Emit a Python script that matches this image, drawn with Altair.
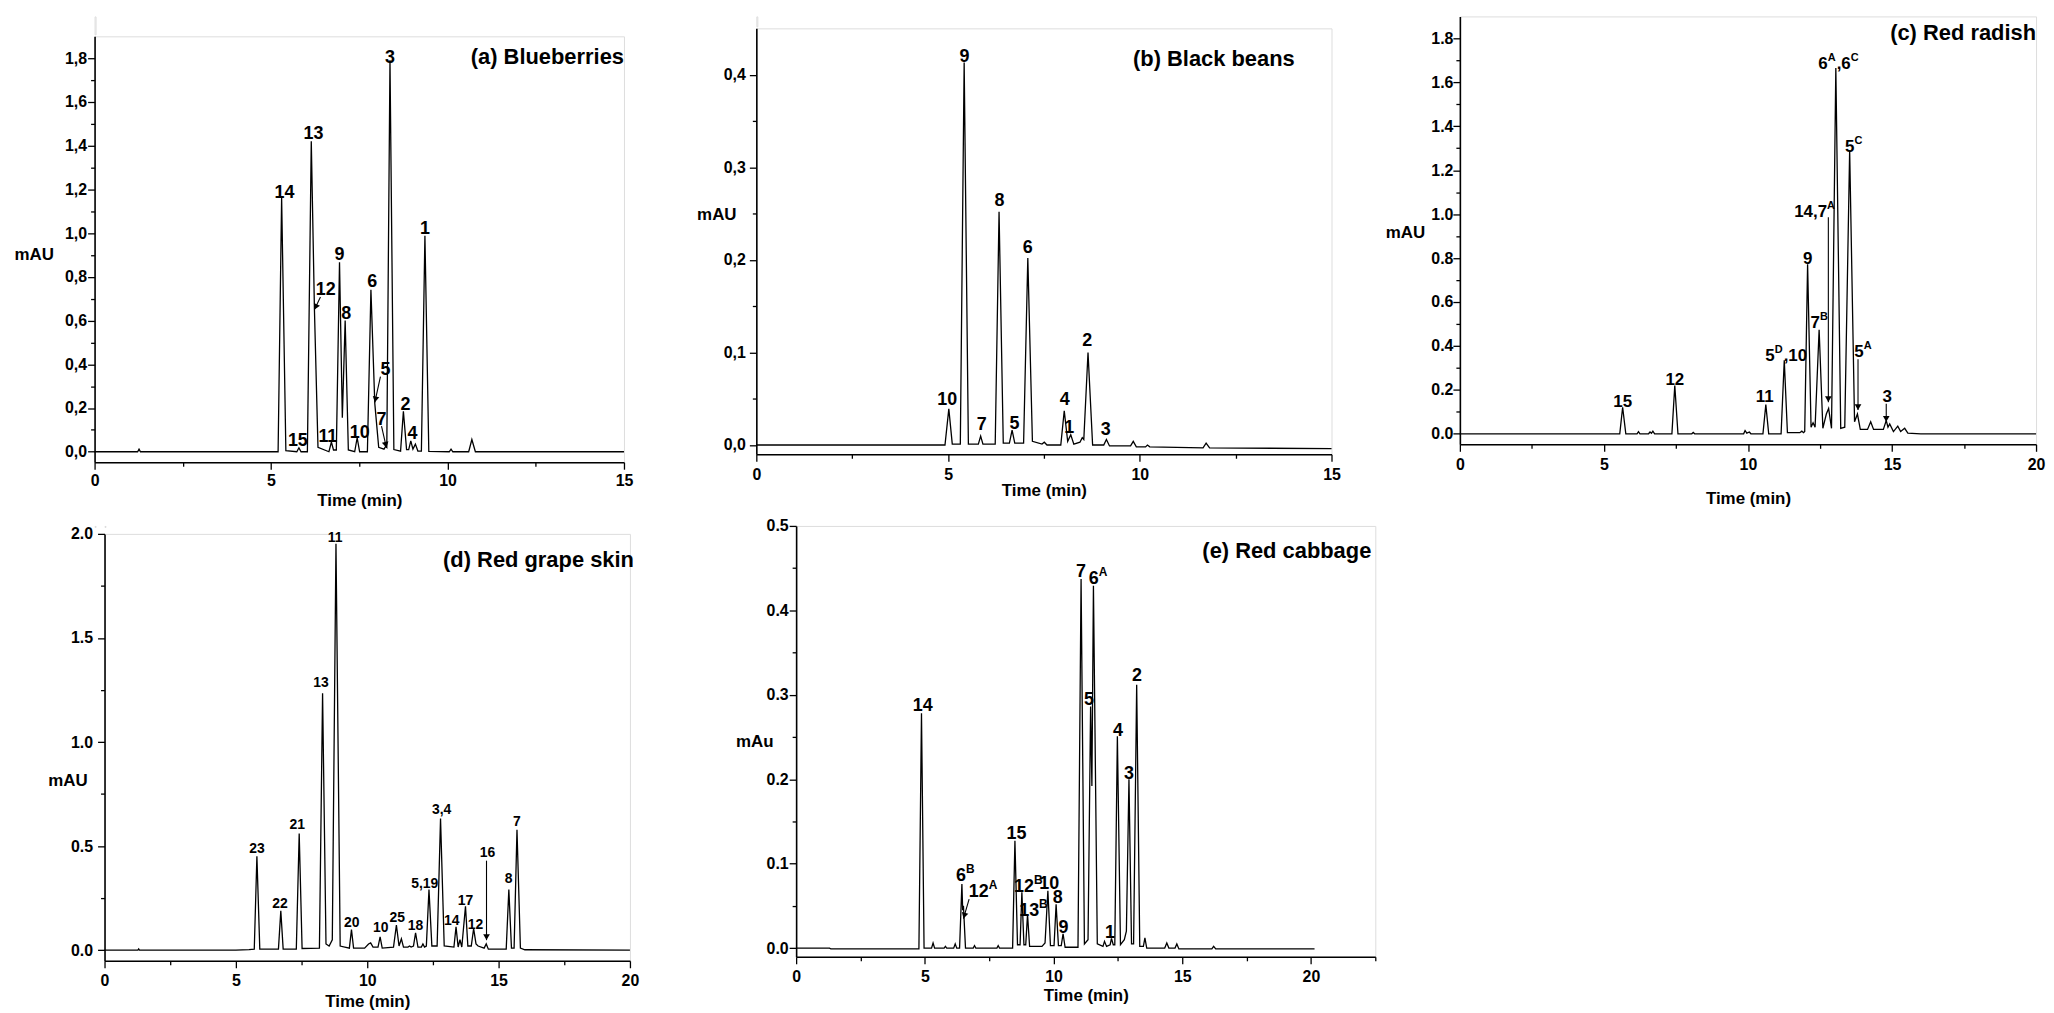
import math
import altair as alt
import pandas as pd

FONT = "Liberation Sans, Arial, Helvetica, sans-serif"

# ---------------- (a) Blueberries ----------------
A_TRACE = [(0, 0), (1.22, 0), (1.26, 0.012), (1.30, 0), (5.20, 0), (5.30, 1.162), (5.42, 0.005),
           (5.73, 0), (5.79, 0.018), (5.85, 0), (6.03, 0), (6.14, 1.42), (6.23, 0.647), (6.33, 0.02),
           (6.64, 0), (6.71, 0.044), (6.77, 0.008), (6.85, 0.008), (6.94, 0.867), (7.02, 0.155),
           (7.10, 0.60), (7.19, 0.008), (7.37, 0), (7.44, 0.064), (7.51, 0), (7.73, 0), (7.83, 0.741),
           (7.94, 0.22), (8.05, 0.02), (8.20, 0.012), (8.25, 0.025), (8.28, 0.02), (8.37, 1.79),
           (8.48, 0.01), (8.67, 0.003), (8.75, 0.185), (8.84, 0.01), (8.90, 0.01), (8.96, 0.05),
           (9.02, 0.012), (9.09, 0.035), (9.16, 0.003), (9.26, 0.003), (9.36, 0.988), (9.47, 0.002),
           (10.05, 0), (10.10, 0.012), (10.15, 0), (10.60, 0), (10.69, 0.056), (10.79, 0), (15.0, 0)]
A_LABELS = [("14", 5.38, 1.162), ("15", 5.76, 0.026), ("13", 6.20, 1.43), ("12", 6.55, 0.715),
            ("11", 6.61, 0.044), ("9", 6.94, 0.877), ("8", 7.13, 0.609), ("10", 7.51, 0.064),
            ("6", 7.87, 0.753), ("5", 8.24, 0.351), ("7", 8.13, 0.124), ("3", 8.37, 1.78),
            ("2", 8.81, 0.192), ("4", 9.01, 0.056), ("1", 9.36, 0.995)]
A_ARROWS = [(6.40, 0.708, 6.23, 0.65), (8.10, 0.344, 7.94, 0.226), (8.13, 0.117, 8.27, 0.018)]

# ---------------- (b) Black beans ----------------
B_TRACE = [(0, 0), (4.92, 0), (5.02, 0.039), (5.11, 0.001), (5.32, 0.001), (5.42, 0.413), (5.53, 0.001),
           (5.79, 0.001), (5.85, 0.0097), (5.91, 0.001), (6.23, 0.001), (6.33, 0.252), (6.44, 0.002),
           (6.60, 0.002), (6.67, 0.016), (6.74, 0.002), (6.97, 0.002), (7.08, 0.202), (7.20, 0.004),
           (7.45, 0.001), (7.51, 0.003), (7.58, 0.0), (7.94, 0.0), (8.03, 0.037), (8.12, 0.004),
           (8.20, 0.011), (8.28, 0.001), (8.44, 0.003), (8.50, 0.008), (8.54, 0.006), (8.65, 0.100),
           (8.77, 0.0), (9.06, 0.0), (9.13, 0.006), (9.21, -0.001), (9.76, -0.001), (9.83, 0.004),
           (9.91, -0.002), (10.15, -0.002), (10.20, 0.0), (10.26, -0.002), (11.65, -0.003),
           (11.73, 0.002), (11.82, -0.003), (15.0, -0.004)]
B_LABELS = [("10", 4.98, 0.043), ("9", 5.43, 0.414), ("7", 5.88, 0.016), ("8", 6.34, 0.258),
            ("5", 6.73, 0.017), ("6", 7.08, 0.207), ("4", 8.04, 0.043), ("1", 8.16, 0.013),
            ("2", 8.63, 0.107), ("3", 9.11, 0.011)]

# ---------------- (c) Red radish ----------------
C_TRACE = [(0, 0), (5.55, 0), (5.65, 0.121), (5.76, 0), (6.15, 0), (6.20, 0.01), (6.25, 0), (6.55, 0),
           (6.60, 0.008), (6.65, 0.002), (6.70, 0.012), (6.76, 0), (7.36, 0), (7.46, 0.22), (7.57, 0),
           (8.05, 0), (8.10, 0.006), (8.15, 0), (9.85, 0), (9.90, 0.015), (9.96, 0.003), (10.05, 0.008),
           (10.10, 0), (10.52, 0), (10.62, 0.133), (10.72, 0), (11.15, 0), (11.26, 0.335), (11.37, 0.005),
           (11.80, 0.005), (11.87, 0.012), (11.93, 0.005), (11.97, 0.01), (12.07, 0.772), (12.19, 0.03),
           (12.26, 0.05), (12.33, 0.03), (12.47, 0.474), (12.60, 0.025), (12.72, 0.09), (12.80, 0.115),
           (12.90, 0.025), (13.05, 1.665), (13.22, 0.025), (13.36, 0.03), (13.53, 1.29), (13.70, 0.055),
           (13.80, 0.09), (13.90, 0.02), (14.15, 0.02), (14.26, 0.055), (14.36, 0.02), (14.70, 0.02),
           (14.80, 0.06), (14.86, 0.03), (14.92, 0.045), (15.05, 0.01), (15.20, 0.035), (15.30, 0.01),
           (15.44, 0.025), (15.55, 0.003), (16.0, 0), (20.0, 0)]
C_LABELS = [("15", 5.65, 0.122), ("12", 7.46, 0.222), ("11", 10.58, 0.144), ("9", 12.07, 0.772),
            ("3", 14.83, 0.144)]
# labels with superscripts: "^" marks the superscript letter; x is the label centre
C_SUPLABELS = [("5^D,10", 11.33, 0.332), ("14,7^A", 12.33, 0.985), ("7^B", 12.49, 0.482),
               ("6^A,6^C", 13.16, 1.661), ("5^C", 13.69, 1.285), ("5^A", 14.01, 0.351)]
C_ARROWS = [(12.79, 0.986, 12.79, 0.144), (13.82, 0.339, 13.82, 0.108), (14.80, 0.137, 14.80, 0.054)]

# ---------------- (d) Red grape skin ----------------
D_TRACE = [(0, 0), (1.27, 0), (1.30, 0.006), (1.33, 0), (5.0, 0), (5.50, 0.003), (5.70, 0.005),
           (5.80, 0.451), (5.91, 0.005), (6.62, 0.005), (6.71, 0.189), (6.80, 0.005), (7.30, 0.005),
           (7.41, 0.56), (7.52, 0.008), (8.18, 0.01), (8.30, 1.234), (8.43, 0.03), (8.55, 0.02),
           (8.67, 0.05), (8.81, 1.953), (8.97, 0.02), (9.32, 0.01), (9.40, 0.099), (9.48, 0.01),
           (9.90, 0.01), (10.05, 0.03), (10.13, 0.035), (10.22, 0.015), (10.41, 0.015), (10.49, 0.064),
           (10.57, 0.01), (11.00, 0.015), (11.11, 0.12), (11.21, 0.02), (11.30, 0.055), (11.38, 0.015),
           (11.55, 0.015), (11.61, 0.02), (11.67, 0.015), (11.76, 0.02), (11.84, 0.083), (11.93, 0.015),
           (12.06, 0.015), (12.12, 0.03), (12.18, 0.015), (12.25, 0.02), (12.35, 0.291), (12.46, 0.02),
           (12.66, 0.02), (12.79, 0.632), (12.93, 0.02), (13.30, 0.015), (13.38, 0.112), (13.46, 0.015),
           (13.53, 0.05), (13.60, 0.015), (13.74, 0.211), (13.83, 0.02), (13.96, 0.02), (14.05, 0.104),
           (14.14, 0.03), (14.22, 0.02), (14.45, 0.01), (14.53, 0.03), (14.61, 0.005), (15.29, 0.005),
           (15.39, 0.291), (15.49, 0.01), (15.59, 0.01), (15.70, 0.579), (15.83, 0.01), (16.0, 0.002),
           (20.0, 0)]
D_LABELS = [("23", 5.80, 0.469), ("22", 6.68, 0.205), ("21", 7.34, 0.584), ("13", 8.24, 1.263),
            ("11", 8.78, 1.963), ("20", 9.41, 0.112), ("10", 10.51, 0.088), ("25", 11.14, 0.136),
            ("18", 11.84, 0.099), ("5,19", 12.19, 0.299), ("3,4", 12.83, 0.652), ("14", 13.22, 0.12),
            ("17", 13.74, 0.219), ("12", 14.12, 0.104), ("16", 14.58, 0.448), ("8", 15.38, 0.323),
            ("7", 15.70, 0.595)]
D_ARROWS = [(14.54, 0.43, 14.54, 0.048)]

# ---------------- (e) Red cabbage ----------------
E_TRACE = [(0, 0), (1.30, 0), (1.35, -0.001), (4.77, -0.001), (4.87, 0.278), (4.97, 0), (5.26, 0),
           (5.32, 0.006), (5.38, 0), (5.75, 0), (5.80, 0.002), (5.85, 0), (6.12, 0), (6.18, 0.005),
           (6.24, 0), (6.35, 0), (6.44, 0.076), (6.47, 0.045), (6.50, 0.05), (6.58, 0), (6.88, 0),
           (6.93, 0.003), (6.98, 0), (7.80, 0), (7.85, 0.003), (7.90, 0), (8.41, 0), (8.50, 0.127),
           (8.60, 0.004), (8.70, 0.004), (8.77, 0.066), (8.85, 0.004), (8.92, 0.004), (8.99, 0.04),
           (9.07, 0.002), (9.55, 0.002), (9.67, 0.006), (9.78, 0.068), (9.88, 0.003), (10.02, 0.003),
           (10.10, 0.052), (10.19, 0.003), (10.30, 0.003), (10.37, 0.017), (10.45, 0.001), (10.95, 0.001),
           (11.07, 0.437), (11.20, 0.005), (11.34, 0.01), (11.44, 0.286), (11.49, 0.192), (11.55, 0.429),
           (11.70, 0.005), (11.92, 0.002), (11.98, 0.008), (12.06, 0.002), (12.20, 0.004), (12.25, 0.0115),
           (12.32, 0.004), (12.38, 0.004), (12.48, 0.251), (12.60, 0.004), (12.75, 0.01), (12.83, 0.02),
           (12.93, 0.2), (13.03, 0.005), (13.11, 0.005), (13.23, 0.312), (13.35, 0.002), (13.49, 0.002),
           (13.55, 0.012), (13.62, 0), (14.32, 0), (14.40, 0.006), (14.48, 0), (14.72, 0), (14.79, 0.005),
           (14.87, -0.001), (16.15, -0.001), (16.22, 0.002), (16.30, -0.001), (20.14, -0.001)]
E_LABELS = [("14", 4.92, 0.281), ("15", 8.56, 0.129), ("10", 9.83, 0.070), ("8", 10.16, 0.053),
            ("9", 10.39, 0.018), ("7", 11.07, 0.440), ("5", 11.38, 0.288), ("4", 12.5, 0.251),
            ("3", 12.93, 0.20), ("2", 13.24, 0.316), ("1", 12.19, 0.0115)]
E_SUPLABELS = [("6^B", 6.59, 0.080), ("12^A", 7.28, 0.0606), ("12^B", 9.04, 0.0665),
               ("13^B", 9.24, 0.038), ("6^A", 11.75, 0.431)]
E_ARROWS = [(6.72, 0.058, 6.50, 0.035)]


def ticks(start, stop, step):
    n = int(round((stop - start) / step))
    return [round(start + i * step, 4) for i in range(n + 1)]


PANELS = {
    "a": dict(trace=A_TRACE, labels=A_LABELS, sup=[], arrows=A_ARROWS, title="(a) Blueberries",
              w=532, h=428, xdom=[0, 15], ydom=[-0.048, 1.9], xticks=ticks(0, 15, 2.5), xmajor=5,
              yticks=ticks(0, 1.8, 0.1), ymajor=0.2, comma=True, ytitle="mAU", ytx=-81, yty=219,
              lfs=18, tx=532, ty=21, xlp=3, xtp=4, ylp=1),
    "b": dict(trace=B_TRACE, labels=B_LABELS, sup=[], arrows=[], title="(b) Black beans",
              w=578, h=428, xdom=[0, 15], ydom=[-0.01, 0.45], xticks=ticks(0, 15, 2.5), xmajor=5,
              yticks=ticks(0, 0.4, 0.05), ymajor=0.1, comma=True, ytitle="mAU", ytx=-60, yty=187,
              lfs=18, tx=541, ty=31, xlp=5, xtp=0, ylp=4),
    "c": dict(trace=C_TRACE, labels=C_LABELS, sup=C_SUPLABELS, arrows=C_ARROWS, title="(c) Red radish",
              w=579, h=430, xdom=[0, 20], ydom=[-0.048, 1.9], xticks=ticks(0, 20, 2.5), xmajor=5,
              yticks=ticks(0, 1.8, 0.1), ymajor=0.2, comma=False, ytitle="mAU", ytx=-75, yty=217,
              lfs=17, tx=579, ty=17, xlp=5, xtp=18, ylp=0),
    "d": dict(trace=D_TRACE, labels=D_LABELS, sup=[], arrows=D_ARROWS, title="(d) Red grape skin",
              w=528, h=429, xdom=[0, 20], ydom=[-0.051, 2.0], xticks=ticks(0, 20, 2.5), xmajor=5,
              yticks=ticks(0, 2.0, 0.25), ymajor=0.5, comma=False, ytitle="mAU", ytx=-57, yty=248,
              lfs=14, tx=532, ty=26, xlp=5, xtp=5, ylp=5),
    "e": dict(trace=E_TRACE, labels=E_LABELS, sup=E_SUPLABELS, arrows=E_ARROWS, title="(e) Red cabbage",
              w=582, h=433, xdom=[0, 22.5], ydom=[-0.0103, 0.5], xticks=ticks(0, 22.5, 2.5), xmajor=5,
              yticks=ticks(0, 0.5, 0.05), ymajor=0.1, comma=False, ytitle="mAu", ytx=-61, yty=217,
              lfs=18, tx=578, ty=25, xlp=5, xtp=3, ylp=1),
}

# approximate advance widths (em) of bold Liberation Sans glyphs used in labels
EM = {",": 0.278, "A": 0.722, "B": 0.722, "C": 0.722, "D": 0.722}


def glyph_w(s):
    return sum(EM.get(ch, 0.556) for ch in s)


def split_sup(label, x_c, y, fs, sfs, pxx):
    """Lay out a label such as '6^A,6^C' into base / superscript pieces (left aligned)."""
    pieces = []
    i = 0
    base = ""
    while i < len(label):
        if label[i] == "^":
            if base:
                pieces.append((base, False))
                base = ""
            pieces.append((label[i + 1], True))
            i += 2
        else:
            base += label[i]
            i += 1
    if base:
        pieces.append((base, False))
    widths = [glyph_w(t) * (sfs if sup else fs) + (1 if sup else 0) for t, sup in pieces]
    total = sum(widths)
    cur = -total / 2.0
    base_rows, sup_rows = [], []
    for (t, sup), w in zip(pieces, widths):
        row = dict(txt=t, t=x_c + cur / pxx, v=y)
        (sup_rows if sup else base_rows).append(row)
        cur += w
    return base_rows, sup_rows


def spacer(w, h):
    return alt.Chart(pd.DataFrame({"k": [0]})).mark_point(
        opacity=0, size=1, strokeWidth=0, filled=True).encode(
        x=alt.value(0.5), y=alt.value(0.5)).properties(width=w, height=h)


def panel(cfg):
    W, H = cfg["w"], cfg["h"]
    x0, x1 = cfg["xdom"]
    y0, y1 = cfg["ydom"]
    pxx = W / (x1 - x0)
    pxy = H / (y1 - y0)
    xs = alt.Scale(domain=[x0, x1], nice=False, zero=False)
    ys = alt.Scale(domain=[y0, y1], nice=False, zero=False)
    xm, ym = cfg["xmajor"], cfg["ymajor"]
    xtest = f"abs(datum.value/{xm} - round(datum.value/{xm})) < 0.001"
    ytest = f"abs(datum.value/{ym} - round(datum.value/{ym})) < 0.001"
    if cfg["comma"]:
        ylab = f"({ytest}) ? replace(format(datum.value, '.1f'), '.', ',') : ''"
    else:
        ylab = f"({ytest}) ? format(datum.value, '.1f') : ''"
    xlab = f"({xtest}) ? format(datum.value, '.0f') : ''"
    common = dict(grid=False, domainColor="black", domainWidth=1.6, tickColor="black", tickWidth=1.3,
                  labelColor="black", titleColor="black", labelFont=FONT, titleFont=FONT,
                  labelFontSize=16, labelFontWeight="bold", titleFontSize=17, titleFontWeight="bold",
                  labelOverlap=False)
    xaxis = alt.Axis(values=cfg["xticks"], labelExpr=xlab,
                     tickSize={"condition": {"test": xtest, "value": 7}, "value": 4},
                     labelFlush=False, labelPadding=cfg["xlp"], title="Time (min)",
                     titlePadding=cfg["xtp"], **common)
    yaxis = alt.Axis(values=cfg["yticks"], labelExpr=ylab,
                     tickSize={"condition": {"test": ytest, "value": 7}, "value": 4},
                     labelPadding=cfg["ylp"], title=cfg["ytitle"], titleAngle=0, titleAlign="left",
                     titleBaseline="middle", titleX=cfg["ytx"], titleY=cfg["yty"], **common)

    X = lambda f: alt.X(f, scale=xs, axis=xaxis)
    Y = lambda f: alt.Y(f, scale=ys, axis=yaxis)

    trace = pd.DataFrame(cfg["trace"], columns=["t", "v"])
    layers = [alt.Chart(trace).mark_line(color="black", strokeWidth=1.3).encode(
        x=X("t:Q"), y=Y("v:Q"))]

    lab = pd.DataFrame(cfg["labels"], columns=["txt", "t", "v"])
    layers.append(alt.Chart(lab).mark_text(align="center", baseline="alphabetic", fontSize=cfg["lfs"],
                                           fontWeight="bold", font=FONT, color="black").encode(
        x=X("t:Q"), y=Y("v:Q"), text="txt:N"))

    if cfg["sup"]:
        fs = cfg["lfs"]
        sfs = round(fs * 0.65)
        brows, srows = [], []
        for (label, xc, yv) in cfg["sup"]:
            b, s = split_sup(label, xc, yv, fs, sfs, pxx)
            brows += b
            srows += s
        layers.append(alt.Chart(pd.DataFrame(brows)).mark_text(
            align="left", baseline="alphabetic", fontSize=fs, fontWeight="bold", font=FONT,
            color="black").encode(x=X("t:Q"), y=Y("v:Q"), text="txt:N"))
        layers.append(alt.Chart(pd.DataFrame(srows)).mark_text(
            align="left", baseline="alphabetic", fontSize=sfs, dy=-round(fs * 0.45), fontWeight="bold",
            font=FONT, color="black").encode(x=X("t:Q"), y=Y("v:Q"), text="txt:N"))

    if cfg["arrows"]:
        rows = []
        for (ta, va, tb, vb) in cfg["arrows"]:
            dx = (tb - ta) * pxx
            dy = (va - vb) * pxy
            L = math.hypot(dx, dy)
            ang = math.degrees(math.atan2(-dx, dy)) % 360
            hc_t = tb - (dx / L) * 3.0 / pxx
            hc_v = vb + (dy / L) * 3.0 / pxy
            rows.append(dict(t=ta, v=va, t2=tb, v2=vb, ht=hc_t, hv=hc_v, ang=ang))
        arr = pd.DataFrame(rows)
        layers.append(alt.Chart(arr).mark_rule(color="black", strokeWidth=1.1).encode(
            x=X("t:Q"), y=Y("v:Q"), x2="t2:Q", y2="v2:Q"))
        layers.append(alt.Chart(arr).mark_point(shape="triangle-down", filled=True, color="black",
                                                opacity=1, size=45).encode(
            x=X("ht:Q"), y=Y("hv:Q"), angle=alt.Angle("ang:Q", scale=None)))

    ttl = pd.DataFrame({"txt": [cfg["title"]]})
    layers.append(alt.Chart(ttl).mark_text(align="right", baseline="middle", fontSize=22,
                                           fontWeight="bold", font=FONT, color="black").encode(
        x=alt.value(cfg["tx"]), y=alt.value(cfg["ty"]), text="txt:N"))

    return alt.layer(*layers).properties(width=W, height=H)


pa, pb, pc, pdd, pe = (panel(PANELS[k]) for k in "abcde")
a_wrap = alt.vconcat(spacer(1, 18), pa, spacing=0)
b_wrap = alt.vconcat(spacer(1, 10), pb, spacing=0)
d_wrap = alt.vconcat(spacer(1, 1), pdd, spacing=-3)
top = alt.hconcat(alt.hconcat(a_wrap, b_wrap, spacing=62), pc, spacing=43)
bottom = alt.hconcat(spacer(1, 1), alt.hconcat(d_wrap, pe, spacing=95), spacing=-50)
chart = alt.vconcat(top, bottom, spacing=8).properties(
    padding={"left": 5, "top": 5, "right": 0, "bottom": 0}
).configure_view(stroke="transparent").configure(font=FONT)

chart.save("out.html", embed_options={"renderer": "svg", "actions": False})
